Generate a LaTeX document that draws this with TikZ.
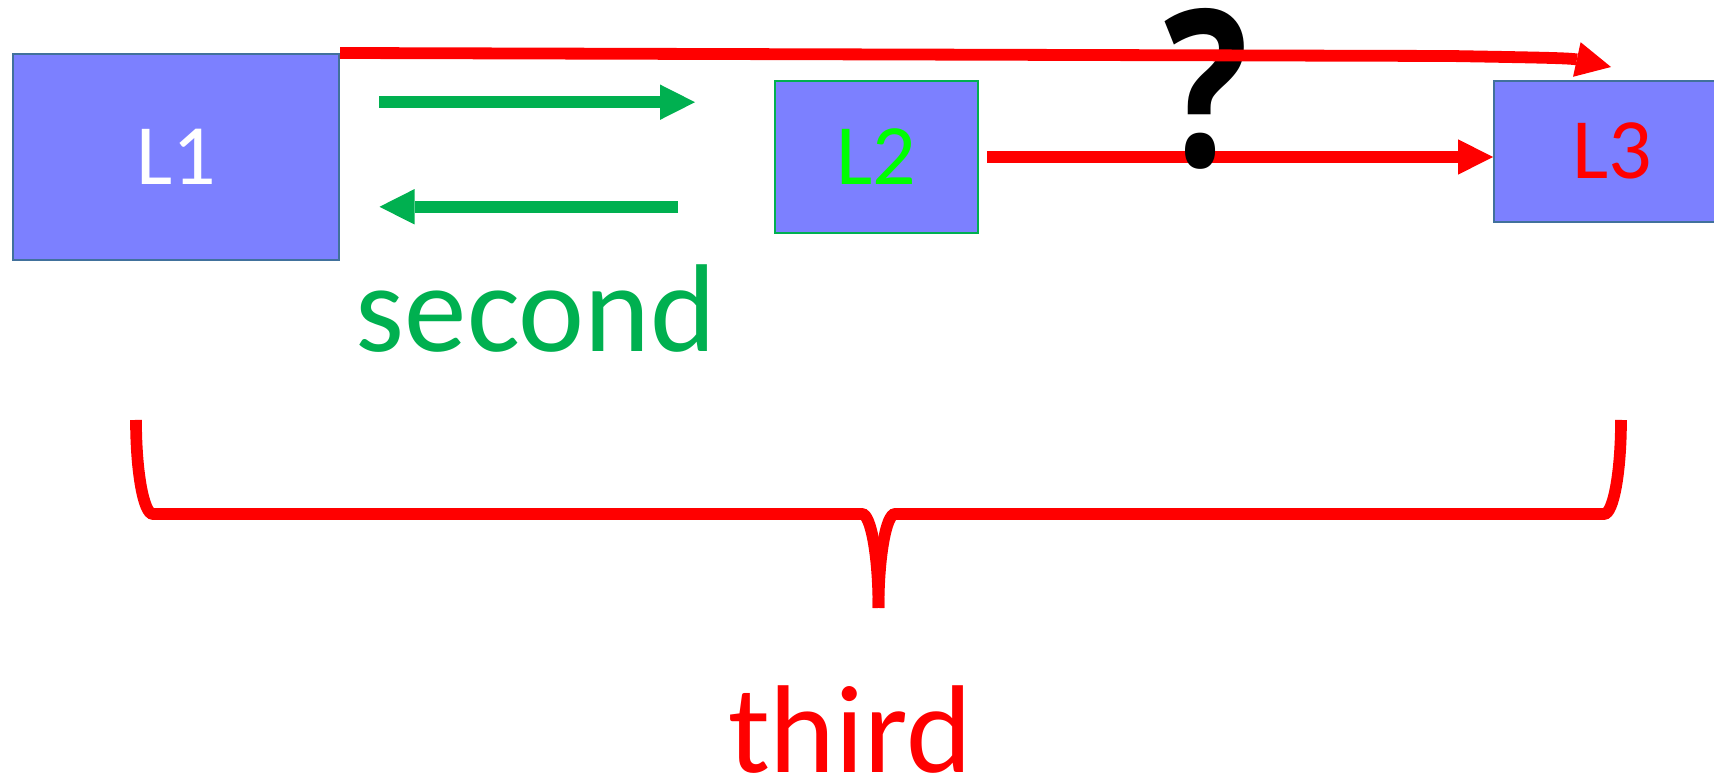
\documentclass[tikz,border=0pt]{standalone}
\usepackage{fontspec}
\setmainfont{Carlito}
\newfontfamily\markfont{Open Sans}
\usetikzlibrary{arrows.meta}
\definecolor{boxfill}{RGB}{124,128,255}
\definecolor{boxrim}{RGB}{65,113,156}
\definecolor{flowgreen}{RGB}{0,176,80}
\definecolor{labelgreen}{RGB}{0,255,0}
\begin{document}
\begin{tikzpicture}[x=0.5pt,y=-0.5pt,
  box/.style={draw=boxrim, line width=1pt, fill=boxfill, inner sep=0pt,
    text height=27.2pt, text depth=0pt, font=\fontsize{43pt}{50pt}\selectfont},
  fat/.style={line width=5.9pt},
  headed/.style={-{Triangle[length=17.5pt,width=17.7pt,line width=0pt]}},
  bigtext/.style={anchor=base, inner sep=0pt, font=\fontsize{62.5pt}{75pt}\selectfont}]
\useasboundingbox (0,0) rectangle (1714,779);
\clip (0,0) rectangle (1714,779);

% layer boxes
\node[box, minimum width=163pt, minimum height=103pt, text=white] (L1) at (176,157) {L1};
\node[box, draw=flowgreen, minimum width=101.5pt, minimum height=76pt, text=labelgreen] (L2) at (876.5,157) {L2};
\node[box, minimum width=118pt, minimum height=70.5pt, text=red] (L3) at (1612,151.5) {L3};

% two-way exchange between L1 and L2
\coordinate (g1) at (379,102.2);
\coordinate (g2) at (695,102.2);
\coordinate (g3) at (678,206.8);
\coordinate (g4) at (379.5,206.8);
\draw[flowgreen, fat, headed] (g1) -- (g2);
\draw[flowgreen, fat, headed] (g3) -- (g4);

% L2 to L3
\draw[red, fat, headed, shorten <=4pt] (L2.east) -- (L2.east -| L3.west);

% question mark
\node[anchor=base, inner sep=0pt] (q) at (1206,167)
  {\resizebox{42pt}{79pt}{\markfont\bfseries ?}};

% direct L1 to L3
\coordinate (topend) at (1611,67);
\draw[red, fat, headed] (L1.north east) -- (1450,56) .. controls (1535,57.5) and (1570,58) .. (topend);

% brace under everything
\begin{scope}[red, line width=5.85pt]
  \draw (136,420) .. controls (136,471.9) and (143.6,514) .. (153,514) -- (862,514)
        .. controls (870.8,514) and (878.5,556.1) .. (878.5,608);
  \draw (1621,420) .. controls (1621,471.9) and (1613.4,514) .. (1604,514) -- (895,514)
        .. controls (886.2,514) and (878.5,556.1) .. (878.5,608);
\end{scope}

% labels
\node[bigtext, text=flowgreen] (second) at (536,352) {second};
\node[bigtext, text=red] (third) at (850,773) {third};
\end{tikzpicture}
\end{document}
